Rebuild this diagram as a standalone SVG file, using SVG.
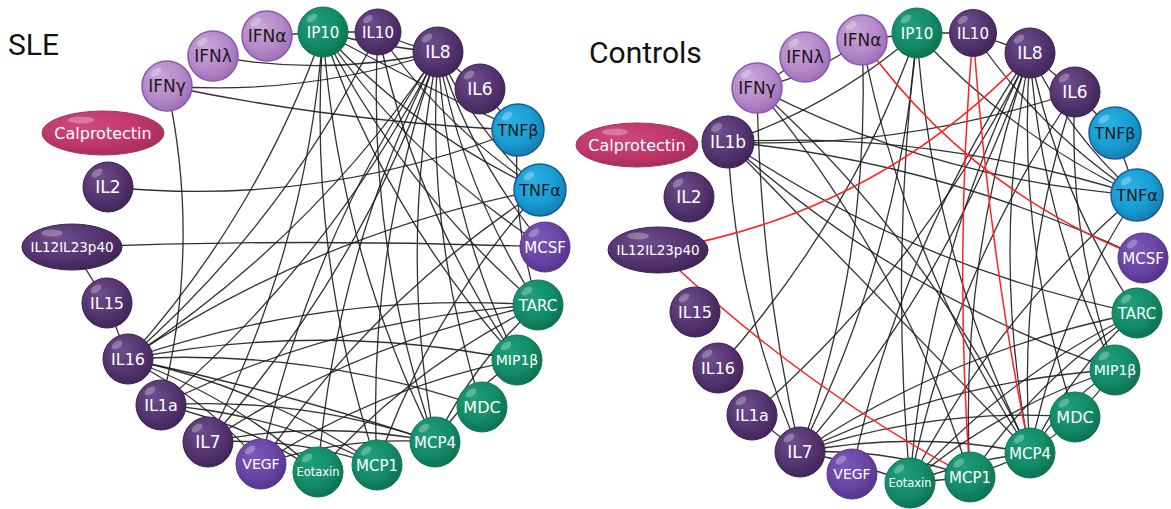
<svg xmlns="http://www.w3.org/2000/svg" xmlns:xlink="http://www.w3.org/1999/xlink" width="1171" height="509" viewBox="0 0 1171 509">
<style>
.e{fill:none;stroke:#1c1c1c;stroke-width:1.3;stroke-opacity:.9}
.neg{fill:none;stroke:#ff2020;stroke-width:1.5}
.t{font-family:"DejaVu Sans",Verdana,sans-serif;font-size:16px;text-anchor:middle;fill:#fff}
.d{fill:#1a1a1a}
.hl{fill:#fff;fill-opacity:.28}
.title{font-family:Roboto,"Liberation Sans",sans-serif;font-size:30px;fill:#111}
</style>
<defs>
<radialGradient id="g-dp" cx="0.42" cy="0.38" r="0.68" fx="0.35" fy="0.3"><stop offset="0" stop-color="#6e4d8c"/><stop offset="0.6" stop-color="#553470"/><stop offset="1" stop-color="#3e2355"/></radialGradient>
<radialGradient id="g-lp" cx="0.42" cy="0.38" r="0.68" fx="0.35" fy="0.3"><stop offset="0" stop-color="#c9a6d8"/><stop offset="0.6" stop-color="#b48ac8"/><stop offset="1" stop-color="#9a6cb4"/></radialGradient>
<radialGradient id="g-gr" cx="0.42" cy="0.38" r="0.68" fx="0.35" fy="0.3"><stop offset="0" stop-color="#1f9f79"/><stop offset="0.6" stop-color="#138c67"/><stop offset="1" stop-color="#0b6d50"/></radialGradient>
<radialGradient id="g-bl" cx="0.42" cy="0.38" r="0.68" fx="0.35" fy="0.3"><stop offset="0" stop-color="#2cb0e4"/><stop offset="0.6" stop-color="#189dd4"/><stop offset="1" stop-color="#117aad"/></radialGradient>
<radialGradient id="g-mp" cx="0.42" cy="0.38" r="0.68" fx="0.35" fy="0.3"><stop offset="0" stop-color="#7c58b8"/><stop offset="0.6" stop-color="#6a45a6"/><stop offset="1" stop-color="#52308a"/></radialGradient>
<radialGradient id="g-cp" cx="0.42" cy="0.38" r="0.68" fx="0.35" fy="0.3"><stop offset="0" stop-color="#cf4a7b"/><stop offset="0.6" stop-color="#c0386a"/><stop offset="1" stop-color="#a22c58"/></radialGradient>
<g id="b-dp"><circle r="25" fill="url(#g-dp)" stroke="#3b2050"/><ellipse class="hl" cx="-11" cy="-14" rx="6" ry="3.5" transform="rotate(-35 -11 -14)"/></g>
<g id="b-lp"><circle r="25" fill="url(#g-lp)" stroke="#8a55b5" stroke-width="1.5"/><ellipse class="hl" cx="-11" cy="-14" rx="6" ry="3.5" transform="rotate(-35 -11 -14)"/></g>
<g id="b-gr"><circle r="25" fill="url(#g-gr)" stroke="#0d7556"/><ellipse class="hl" cx="-11" cy="-14" rx="6" ry="3.5" transform="rotate(-35 -11 -14)"/></g>
<g id="b-bl"><circle r="26" fill="url(#g-bl)" stroke="#1a5d93" stroke-width="1.5"/><ellipse class="hl" cx="-11" cy="-14" rx="6" ry="3.5" transform="rotate(-35 -11 -14)"/></g>
<g id="b-mp"><circle r="25" fill="url(#g-mp)" stroke="#56378f"/><ellipse class="hl" cx="-11" cy="-14" rx="6" ry="3.5" transform="rotate(-35 -11 -14)"/></g>
<g id="b-cal"><ellipse rx="61" ry="22" fill="url(#g-cp)" stroke="#a83060"/><ellipse class="hl" cx="-22" cy="-13" rx="13" ry="3.5"/></g>
<g id="b-il12"><ellipse rx="50" ry="23" fill="url(#g-dp)" stroke="#3b2050"/><ellipse class="hl" cx="-20" cy="-14" rx="11" ry="3.5"/></g>
</defs>
<rect width="1171" height="509" fill="#fff"/>
<text class="title" x="8" y="55">SLE</text>
<text class="title" x="589" y="63">Controls</text>

<g id="sle-edges">
<path class="e" d="M267,36 L323,32"/>
<path class="e" d="M323,32 L378,32"/>
<path class="e" d="M378,32 Q408,46 438,52"/>
<path class="e" d="M323,32 Q380,47 438,52"/>
<path class="e" d="M213,56 Q326,77 438,52"/>
<path class="e" d="M167,86 Q306,96 438,52"/>
<path class="e" d="M167,86 Q340,122 518,130"/>
<path class="e" d="M167,86 Q202,246 161,405"/>
<path class="e" d="M108,187 Q320,208 518,130"/>
<path class="e" d="M72,247 Q308,238 545,247"/>
<path class="e" d="M72,247 L107,303"/>
<path class="e" d="M107,303 L128,359"/>
<path class="e" d="M128,359 Q314,237 438,52"/>
<path class="e" d="M128,359 Q258,215 323,32"/>
<path class="e" d="M128,359 Q286,221 378,32"/>
<path class="e" d="M128,359 Q317,233 540,190"/>
<path class="e" d="M128,359 Q328,291 538,305"/>
<path class="e" d="M128,359 Q323,321 517,360"/>
<path class="e" d="M128,359 Q285,392 435,442"/>
<path class="e" d="M128,359 Q263,387 377,465"/>
<path class="e" d="M128,359 Q310,348 482,407"/>
<path class="e" d="M161,405 Q340,317 538,305"/>
<path class="e" d="M161,405 Q302,396 435,442"/>
<path class="e" d="M161,405 Q275,413 377,465"/>
<path class="e" d="M161,405 Q335,256 438,52"/>
<path class="e" d="M208,442 Q307,249 323,32"/>
<path class="e" d="M208,442 Q362,270 438,52"/>
<path class="e" d="M208,442 Q359,341 538,305"/>
<path class="e" d="M208,442 Q322,419 435,442"/>
<path class="e" d="M208,442 Q295,437 377,465"/>
<path class="e" d="M261,464 Q308,240 438,52"/>
<path class="e" d="M261,464 Q373,299 540,190"/>
<path class="e" d="M261,464 Q379,386 517,360"/>
<path class="e" d="M261,464 Q205,398 128,359"/>
<path class="e" d="M261,464 Q346,436 435,442"/>
<path class="e" d="M318,472 Q336,250 438,52"/>
<path class="e" d="M318,472 Q411,367 538,305"/>
<path class="e" d="M318,472 Q234,397 128,359"/>
<path class="e" d="M318,472 Q246,423 161,405"/>
<path class="e" d="M377,465 Q307,254 323,32"/>
<path class="e" d="M377,465 Q366,252 438,52"/>
<path class="e" d="M377,465 Q431,311 540,190"/>
<path class="e" d="M435,442 Q338,248 323,32"/>
<path class="e" d="M435,442 Q366,243 378,32"/>
<path class="e" d="M435,442 Q398,247 438,52"/>
<path class="e" d="M435,442 Q468,393 517,360"/>
<path class="e" d="M435,442 Q473,363 538,305"/>
<path class="e" d="M482,407 Q425,234 438,52"/>
<path class="e" d="M517,360 Q447,214 438,52"/>
<path class="e" d="M517,360 Q415,210 378,32"/>
<path class="e" d="M517,360 Q387,216 323,32"/>
<path class="e" d="M538,305 Q463,189 438,52"/>
<path class="e" d="M538,305 Q511,220 518,130"/>
<path class="e" d="M538,305 Q403,190 323,32"/>
<path class="e" d="M545,247 Q472,160 438,52"/>
<path class="e" d="M545,247 Q413,162 323,32"/>
<path class="e" d="M540,190 Q475,131 438,52"/>
<path class="e" d="M540,190 Q416,133 323,32"/>
<path class="e" d="M540,190 Q443,127 378,32"/>
<path class="e" d="M480,89 L518,130"/>
<path class="e" d="M438,52 L480,89"/>
<path class="e" d="M323,32 Q418,84 518,130"/>
</g>

<g id="ctl-edges">
<path class="e" d="M757,88 L805,57"/>
<path class="e" d="M757,88 Q815,75 862,40"/>
<path class="e" d="M728,142 Q833,106 917,33"/>
<path class="e" d="M757,88 Q936,180 1137,195"/>
<path class="e" d="M728,142 Q930,130 1137,195"/>
<path class="e" d="M728,142 Q935,160 1143,258"/>
<path class="e" d="M1075,92 Q900,150 728,142"/>
<path class="e" d="M728,142 Q915,268 1137,313"/>
<path class="e" d="M728,142 Q879,297 1030,453"/>
<path class="e" d="M728,142 Q735,305 800,452"/>
<path class="e" d="M728,142 Q899,295 1115,370"/>
<path class="e" d="M757,88 Q760,280 800,452"/>
<path class="e" d="M757,88 Q930,243 1030,453"/>
<path class="e" d="M757,88 Q902,261 970,477"/>
<path class="e" d="M862,40 Q872,252 800,452"/>
<path class="e" d="M862,40 Q905,263 1030,453"/>
<path class="e" d="M862,40 L917,33"/>
<path class="e" d="M917,33 L973,33"/>
<path class="e" d="M973,33 L1030,53"/>
<path class="e" d="M917,33 Q851,220 718,368"/>
<path class="e" d="M917,33 Q900,254 800,452"/>
<path class="e" d="M917,33 Q890,258 910,483"/>
<path class="e" d="M917,33 Q931,254 1030,453"/>
<path class="e" d="M917,33 Q1011,136 1137,195"/>
<path class="e" d="M973,33 Q1039,130 1137,195"/>
<path class="e" d="M1030,53 Q927,262 752,415"/>
<path class="e" d="M1030,53 Q955,276 800,452"/>
<path class="e" d="M1030,53 Q927,256 910,483"/>
<path class="e" d="M1030,53 Q958,259 970,477"/>
<path class="e" d="M1030,53 Q990,253 1030,453"/>
<path class="e" d="M1030,53 Q1041,220 1115,370"/>
<path class="e" d="M1030,53 Q1058,194 1137,313"/>
<path class="e" d="M1030,53 Q1069,135 1137,195"/>
<path class="e" d="M1030,53 Q899,246 852,474"/>
<path class="e" d="M1030,53 Q1016,240 1075,417"/>
<path class="e" d="M1075,92 Q1016,268 1030,453"/>
<path class="e" d="M1075,92 Q953,271 910,483"/>
<path class="e" d="M1075,92 Q1067,235 1115,370"/>
<path class="e" d="M1030,53 L1075,92"/>
<path class="e" d="M1075,92 L1115,133"/>
<path class="e" d="M1115,133 L1137,195"/>
<path class="e" d="M1137,195 Q995,316 910,483"/>
<path class="e" d="M1137,195 Q1058,313 1030,453"/>
<path class="e" d="M1137,313 Q955,349 800,452"/>
<path class="e" d="M1137,313 Q1007,375 910,483"/>
<path class="e" d="M1137,313 Q1070,372 1030,453"/>
<path class="e" d="M1137,313 Q1037,378 970,477"/>
<path class="e" d="M1115,370 Q1065,400 1030,453"/>
<path class="e" d="M1115,370 Q1080,420 1030,453"/>
<path class="e" d="M1115,370 Q1001,406 910,483"/>
<path class="e" d="M1115,370 Q949,380 800,452"/>
<path class="e" d="M1075,417 Q934,407 800,452"/>
<path class="e" d="M752,415 L800,452"/>
<path class="e" d="M800,452 Q915,430 1030,453"/>
<path class="e" d="M800,452 Q888,448 970,477"/>
<path class="e" d="M800,452 Q857,462 910,483"/>
<path class="e" d="M910,483 L970,477"/>
<path class="e" d="M910,483 Q968,460 1030,453"/>
<path class="e" d="M970,477 L1030,453"/>
<path class="neg" d="M862,40 Q970,191 1143,258"/>
<path class="neg" d="M1030,53 Q877,215 658,250"/>
<path class="neg" d="M973,33 Q954,255 970,477"/>
<path class="neg" d="M973,33 Q990,260 1030,453"/>
<path class="neg" d="M658,250 Q798,385 970,477"/>
</g>

<g id="sle-IFNa" transform="translate(267,36)"><use href="#b-lp"/><text class="t d" y="6" style="font-size:17px">IFNα</text></g>
<g id="sle-IFNl" transform="translate(213,56)"><use href="#b-lp"/><text class="t d" y="6" style="font-size:17px">IFNλ</text></g>
<g id="sle-IFNg" transform="translate(167,86)"><use href="#b-lp"/><text class="t d" y="6" style="font-size:17px">IFNγ</text></g>
<g id="sle-Calprotectin" transform="translate(103,133)"><use href="#b-cal"/><text class="t" y="6">Calprotectin</text></g>
<g id="sle-IL2" transform="translate(108,187)"><use href="#b-dp"/><text class="t" y="6" style="font-size:17px">IL2</text></g>
<g id="sle-IL12IL23p40" transform="translate(72,247)"><use href="#b-il12"/><text class="t" y="5" style="font-size:13.5px">IL12IL23p40</text></g>
<g id="sle-IL15" transform="translate(107,303)"><use href="#b-dp"/><text class="t" y="6">IL15</text></g>
<g id="sle-IL16" transform="translate(128,359)"><use href="#b-dp"/><text class="t" y="6">IL16</text></g>
<g id="sle-IL1a" transform="translate(161,405)"><use href="#b-dp"/><text class="t" y="6">IL1a</text></g>
<g id="sle-IL7" transform="translate(208,442)"><use href="#b-dp"/><text class="t" y="6" style="font-size:17px">IL7</text></g>
<g id="sle-VEGF" transform="translate(261,464)"><use href="#b-mp"/><text class="t" y="5" style="font-size:14px">VEGF</text></g>
<g id="sle-Eotaxin" transform="translate(318,472)"><use href="#b-gr"/><text class="t" y="4" style="font-size:11.5px">Eotaxin</text></g>
<g id="sle-MCP1" transform="translate(377,465)"><use href="#b-gr"/><text class="t" y="5.5" style="font-size:15px">MCP1</text></g>
<g id="sle-MCP4" transform="translate(435,442)"><use href="#b-gr"/><text class="t" y="5.5" style="font-size:15px">MCP4</text></g>
<g id="sle-MDC" transform="translate(482,407)"><use href="#b-gr"/><text class="t" y="6">MDC</text></g>
<g id="sle-MIP1b" transform="translate(517,360)"><use href="#b-gr"/><text class="t" y="5" style="font-size:14px">MIP1β</text></g>
<g id="sle-TARC" transform="translate(538,305)"><use href="#b-gr"/><text class="t" y="5.5" style="font-size:15px">TARC</text></g>
<g id="sle-MCSF" transform="translate(545,247)"><use href="#b-mp"/><text class="t" y="5.5" style="font-size:15px">MCSF</text></g>
<g id="sle-TNFa" transform="translate(540,190)"><use href="#b-bl"/><text class="t d" y="6">TNFα</text></g>
<g id="sle-TNFb" transform="translate(518,130)"><use href="#b-bl"/><text class="t d" y="6">TNFβ</text></g>
<g id="sle-IL6" transform="translate(480,89)"><use href="#b-dp"/><text class="t" y="6" style="font-size:17px">IL6</text></g>
<g id="sle-IL8" transform="translate(438,52)"><use href="#b-dp"/><text class="t" y="6" style="font-size:17px">IL8</text></g>
<g id="sle-IL10" transform="translate(378,32)"><use href="#b-dp" transform="scale(0.92)"/><text class="t" y="5.5" style="font-size:15px">IL10</text></g>
<g id="sle-IP10" transform="translate(323,32)"><use href="#b-gr"/><text class="t" y="5.5" style="font-size:15px">IP10</text></g>

<g id="ctl-IFNa" transform="translate(862,40)"><use href="#b-lp"/><text class="t d" y="6" style="font-size:17px">IFNα</text></g>
<g id="ctl-IFNl" transform="translate(805,57)"><use href="#b-lp"/><text class="t d" y="6" style="font-size:17px">IFNλ</text></g>
<g id="ctl-IFNg" transform="translate(757,88)"><use href="#b-lp"/><text class="t d" y="6" style="font-size:17px">IFNγ</text></g>
<g id="ctl-IL1b" transform="translate(728,142)"><use href="#b-dp" transform="scale(1.04)"/><text class="t" y="6" style="font-size:17px">IL1b</text></g>
<g id="ctl-Calprotectin" transform="translate(637,145)"><use href="#b-cal"/><text class="t" y="6">Calprotectin</text></g>
<g id="ctl-IL2" transform="translate(689,197)"><use href="#b-dp"/><text class="t" y="6" style="font-size:17px">IL2</text></g>
<g id="ctl-IL12IL23p40" transform="translate(658,250)"><use href="#b-il12"/><text class="t" y="5" style="font-size:13.5px">IL12IL23p40</text></g>
<g id="ctl-IL15" transform="translate(695,312)"><use href="#b-dp"/><text class="t" y="6">IL15</text></g>
<g id="ctl-IL16" transform="translate(718,368)"><use href="#b-dp"/><text class="t" y="6">IL16</text></g>
<g id="ctl-IL1a" transform="translate(752,415)"><use href="#b-dp"/><text class="t" y="6">IL1a</text></g>
<g id="ctl-IL7" transform="translate(800,452)"><use href="#b-dp"/><text class="t" y="6" style="font-size:17px">IL7</text></g>
<g id="ctl-VEGF" transform="translate(852,474)"><use href="#b-mp"/><text class="t" y="5" style="font-size:14px">VEGF</text></g>
<g id="ctl-Eotaxin" transform="translate(910,483)"><use href="#b-gr"/><text class="t" y="4" style="font-size:11.5px">Eotaxin</text></g>
<g id="ctl-MCP1" transform="translate(970,477)"><use href="#b-gr"/><text class="t" y="5.5" style="font-size:15px">MCP1</text></g>
<g id="ctl-MCP4" transform="translate(1030,453)"><use href="#b-gr"/><text class="t" y="5.5" style="font-size:15px">MCP4</text></g>
<g id="ctl-MDC" transform="translate(1075,417)"><use href="#b-gr"/><text class="t" y="6">MDC</text></g>
<g id="ctl-MIP1b" transform="translate(1115,370)"><use href="#b-gr"/><text class="t" y="5" style="font-size:14px">MIP1β</text></g>
<g id="ctl-TARC" transform="translate(1137,313)"><use href="#b-gr"/><text class="t" y="5.5" style="font-size:15px">TARC</text></g>
<g id="ctl-MCSF" transform="translate(1143,258)"><use href="#b-mp"/><text class="t" y="5.5" style="font-size:15px">MCSF</text></g>
<g id="ctl-TNFa" transform="translate(1137,195)"><use href="#b-bl"/><text class="t d" y="6">TNFα</text></g>
<g id="ctl-TNFb" transform="translate(1115,133)"><use href="#b-bl"/><text class="t d" y="6">TNFβ</text></g>
<g id="ctl-IL6" transform="translate(1075,92)"><use href="#b-dp"/><text class="t" y="6" style="font-size:17px">IL6</text></g>
<g id="ctl-IL8" transform="translate(1030,53)"><use href="#b-dp"/><text class="t" y="6" style="font-size:17px">IL8</text></g>
<g id="ctl-IL10" transform="translate(973,33)"><use href="#b-dp" transform="scale(0.94)"/><text class="t" y="5.5" style="font-size:15px">IL10</text></g>
<g id="ctl-IP10" transform="translate(917,33)"><use href="#b-gr"/><text class="t" y="5.5" style="font-size:15px">IP10</text></g>
</svg>
